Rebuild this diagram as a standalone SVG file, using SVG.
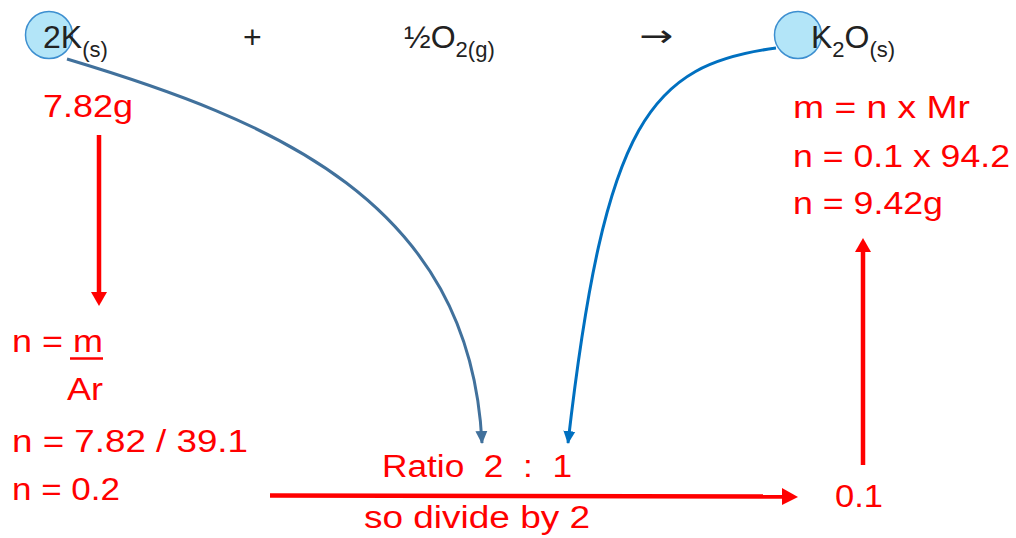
<svg xmlns="http://www.w3.org/2000/svg" width="1016" height="538" viewBox="0 0 1016 538">
<defs>
<style>
.blk{font-family:"Liberation Sans",Arial,sans-serif;fill:#222222;font-size:32px}
.red{font-family:"Liberation Sans",Arial,sans-serif;fill:#FF0000;font-size:31px;white-space:pre}
.sub{font-size:22px}
.ball{fill:#B3E5F8;stroke:#3D8FD0;stroke-width:1.5}
.rl{stroke:#FF0000;stroke-width:4.5;fill:none}
.rh{fill:#FF0000}
</style>
<marker id="ah1" markerUnits="userSpaceOnUse" markerWidth="14" markerHeight="14" viewBox="0 0 14 14" refX="12" refY="7" orient="auto">
<path d="M0,1 L13,7 L0,13 Z" fill="#41719C"/>
</marker>
<marker id="ah2" markerUnits="userSpaceOnUse" markerWidth="14" markerHeight="14" viewBox="0 0 14 14" refX="12" refY="7" orient="auto">
<path d="M0,1 L13,7 L0,13 Z" fill="#0070C0"/>
</marker>
</defs>
<rect width="1016" height="538" fill="#FFFFFF"/>

<g id="node-2K">
<circle class="ball" cx="49" cy="35" r="23.5"/>
<text class="blk" x="43" y="48" font-size="30">2K<tspan class="sub" dy="9">(s)</tspan></text>
</g>
<g id="node-plus">
<text class="blk" x="243" y="48" font-size="36">+</text>
</g>
<g id="node-O2">
<text class="blk" x="404" y="48">½O<tspan class="sub" dy="9">2(g)</tspan></text>
</g>
<g id="node-yields">
<text x="639" y="46" font-family="DejaVu Sans, sans-serif" font-size="30" fill="#222222" textLength="34" lengthAdjust="spacingAndGlyphs">→</text>
</g>
<g id="node-K2O">
<circle class="ball" cx="798" cy="35" r="23.5"/>
<text class="blk" x="811" y="48">K<tspan class="sub" dy="9">2</tspan><tspan dy="-9">O</tspan><tspan class="sub" dy="9">(s)</tspan></text>
</g>

<g id="node-mass-K">
<text class="red" x="43" y="117" textLength="90" lengthAdjust="spacingAndGlyphs">7.82g</text>
</g>
<g id="node-moles-K">
<text class="red" x="12" y="352" textLength="91" lengthAdjust="spacingAndGlyphs">n = m</text>
<line x1="70" y1="358.5" x2="103" y2="358.5" stroke="#FF0000" stroke-width="2.5"/>
<text class="red" x="67" y="400" textLength="36" lengthAdjust="spacingAndGlyphs">Ar</text>
<text class="red" x="12" y="452" textLength="236" lengthAdjust="spacingAndGlyphs">n = 7.82 / 39.1</text>
<text class="red" x="12" y="500" textLength="108" lengthAdjust="spacingAndGlyphs">n = 0.2</text>
</g>
<g id="node-ratio">
<text class="red" x="382" y="477" textLength="190" lengthAdjust="spacingAndGlyphs">Ratio  2  :  1</text>
<text class="red" x="364" y="528" textLength="226" lengthAdjust="spacingAndGlyphs">so divide by 2</text>
</g>
<g id="node-moles-K2O">
<text class="red" x="835" y="507" textLength="48" lengthAdjust="spacingAndGlyphs">0.1</text>
</g>
<g id="node-mass-K2O">
<text class="red" x="793" y="118" textLength="177" lengthAdjust="spacingAndGlyphs">m = n x Mr</text>
<text class="red" x="793" y="167" textLength="217" lengthAdjust="spacingAndGlyphs">n = 0.1 x 94.2</text>
<text class="red" x="793" y="214" textLength="150" lengthAdjust="spacingAndGlyphs">n = 9.42g</text>
</g>

<g id="connectors">
<path d="M67,59 C270,120 470,200 482,443" fill="none" stroke="#41719C" stroke-width="3" marker-end="url(#ah1)"/>
<path d="M776,48 C650,65 605,120 568,443" fill="none" stroke="#0070C0" stroke-width="3" marker-end="url(#ah2)"/>
<line class="rl" x1="99" y1="135" x2="99" y2="293"/>
<polygon class="rh" points="91,292 107,292 99,306"/>
<line class="rl" x1="863" y1="465" x2="863" y2="251"/>
<polygon class="rh" points="855,252 871,252 863,238"/>
<line class="rl" x1="270" y1="495.5" x2="784" y2="496.5"/>
<polygon class="rh" points="782,488 782,505 798,497"/>
</g>
</svg>
